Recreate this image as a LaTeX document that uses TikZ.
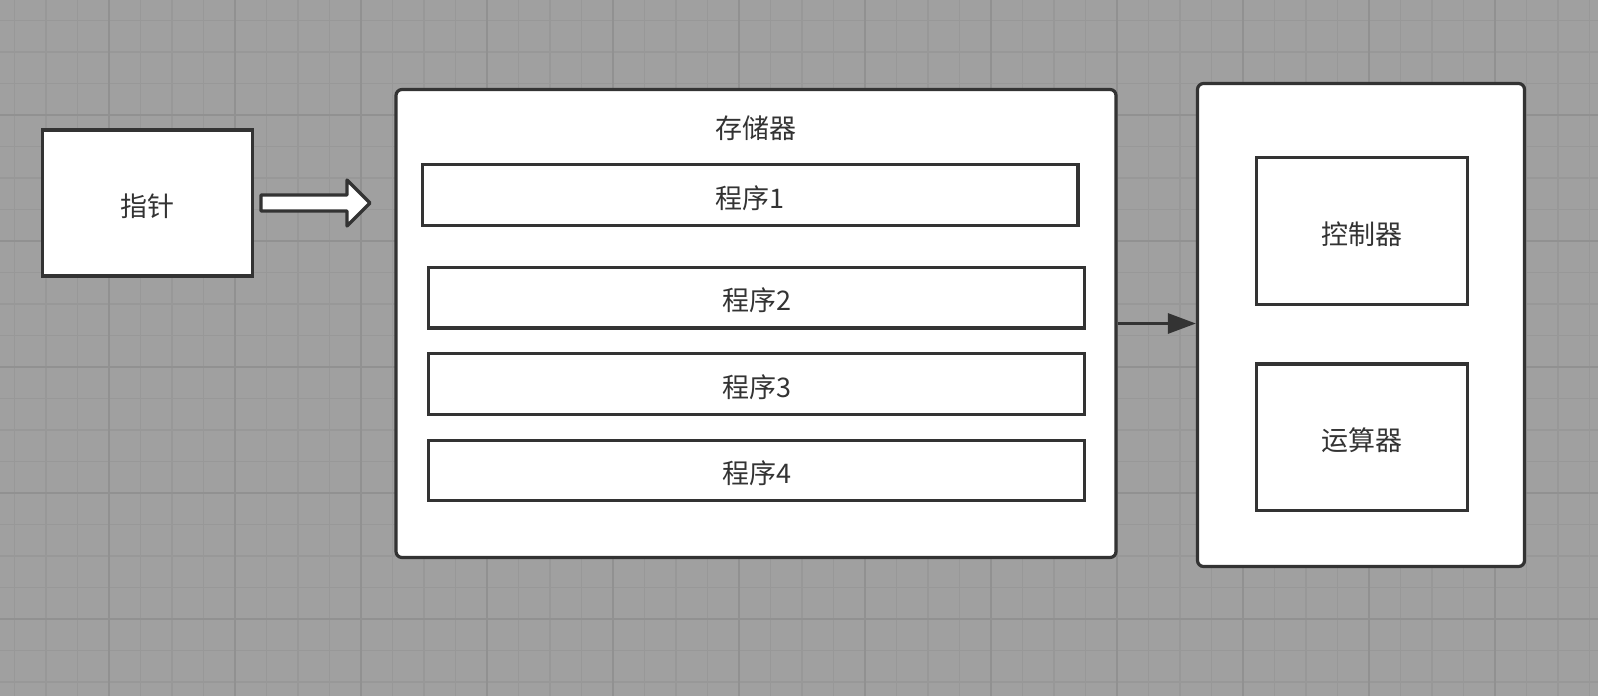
\documentclass[tikz,border=0pt]{standalone}
\usepackage{fontspec}
\setmainfont{Noto Sans CJK SC}
\usetikzlibrary{arrows.meta,calc}
\definecolor{bgc}{RGB}{160,160,160}
\definecolor{minorc}{RGB}{152,152,152}
\definecolor{majorc}{RGB}{145,145,145}
\definecolor{ink}{RGB}{51,51,51}
\tikzset{
  box/.style={draw=ink, fill=white, line width=1.6pt, inner sep=0pt, font=\fontsize{13.5pt}{16pt}\selectfont, text=ink, text height=14pt, text depth=1pt},
  roundbox/.style={box, rounded corners=3pt},
  prog/.style={box, minimum width=327.75pt, minimum height=30.25pt},
  unit/.style={box, minimum width=105.5pt, minimum height=73.5pt},
  conn/.style={draw=ink, line width=1.5pt, -{Triangle[length=14pt,width=10pt]}},
  hollow/.style={draw=ink, fill=white, line width=1.6pt, line join=round},
  title/.style={text=ink, font=\fontsize{13.5pt}{16pt}\selectfont, inner sep=0pt}
}
\begin{document}
\begin{tikzpicture}[x=0.5pt,y=-0.5pt]
\useasboundingbox (0,0) rectangle (1598,696);
\fill[bgc] (0,0) rectangle (1598,696);
% grid
\foreach \i in {0,...,50} {
  \draw[minorc, line width=0.9pt] ({14.5+31.5*\i},0) -- ({14.5+31.5*\i},696);
}
\foreach \i in {0,...,21} {
  \draw[minorc, line width=0.9pt] (0,{20.5+31.5*\i}) -- (1598,{20.5+31.5*\i});
}
\foreach \i in {0,...,12} {
  \draw[majorc, line width=1.1pt] ({109+126*\i},0) -- ({109+126*\i},696);
}
\foreach \i in {0,...,4} {
  \draw[majorc, line width=1.1pt] (0,{115+126*\i}) -- (1598,{115+126*\i});
}
% pointer
\node[box, minimum width=105pt, minimum height=73pt] (ptr) at (147.5,203) {指针};
% hollow block arrow
\draw[hollow] (261,195) -- (347,195) -- (347,180) -- (370,203) -- (347,226) -- (347,211) -- (261,211) -- cycle;
% storage
\node[roundbox, minimum width=360pt, minimum height=234pt] (mem) at (756,323.5) {};
\node[title] (memt) at (756,128) {存储器};
\node[prog] (p1) at (750.25,195) {程序1};
\node[prog] (p2) at (756.5,297.75) {程序2};
\node[prog] (p3) at (756.5,384) {程序3};
\node[prog] (p4) at (756.5,470.5) {程序4};
% cpu
\node[roundbox, minimum width=163.5pt, minimum height=241.5pt] (cpu) at (1361,325) {};
\node[unit] (ctl) at (1362,231) {控制器};
\node[unit, minimum height=73.25pt] (alu) at (1362,437.25) {运算器};
% connector
\draw[conn] (mem.east) -- (mem.east -| cpu.west);
\end{tikzpicture}
\end{document}
